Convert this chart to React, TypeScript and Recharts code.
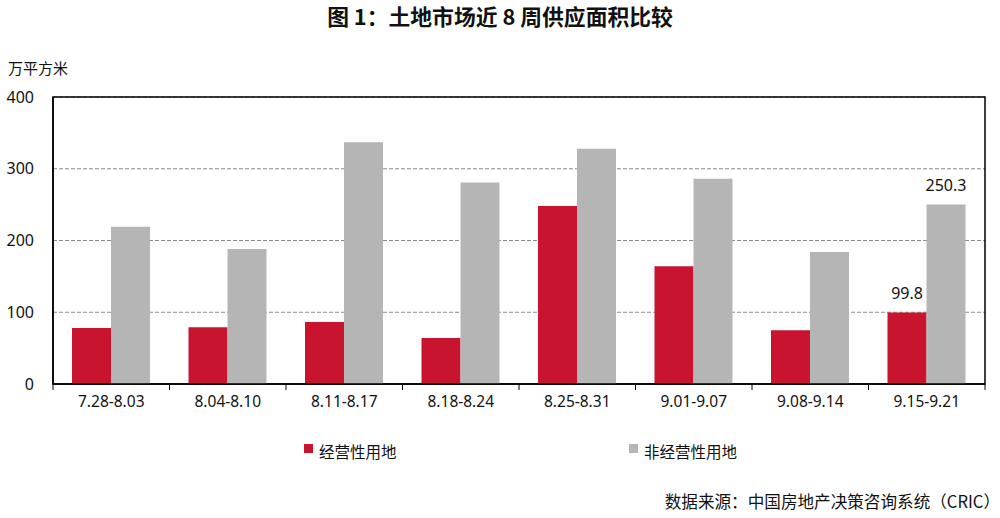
import React from "react";
import {
  BarChart,
  Bar,
  XAxis,
  YAxis,
  CartesianGrid,
  usePlotArea,
} from "recharts";

const categories = [
  "7.28-8.03",
  "8.04-8.10",
  "8.11-8.17",
  "8.18-8.24",
  "8.25-8.31",
  "9.01-9.07",
  "9.08-9.14",
  "9.15-9.21",
];
const commercial = [78, 79, 86.5, 64, 248, 164, 75, 99.8];
const nonCommercial = [219, 188, 337, 281, 328, 286, 184, 250.3];
const yTicks = [0, 100, 200, 300, 400];
const seriesNames = ["经营性用地", "非经营性用地"];
const labeledIndex = 7;

const data = categories.map((c, i) => ({
  cat: c,
  a: commercial[i],
  b: nonCommercial[i],
}));

const RED = "#C8142E";
const GRAY = "#B5B5B5";
const FONT = "'Noto Sans', 'Noto Sans CJK SC', sans-serif";
const CJK = "'Noto Sans CJK SC', 'Noto Sans', sans-serif";

const makeLabel = (props: any) => {
  const { x, y, width, value, index } = props;
  if (index !== labeledIndex) return null;
  return (
    <text
      x={x + width / 2}
      y={y - 13}
      textAnchor="middle"
      fontSize={16}
      fontFamily={FONT}
      fill="#111"
    >
      {value}
    </text>
  );
};

const CatTick = (props: any) => {
  const { x, y, payload, index } = props;
  const half = payload && payload.offset ? payload.offset : 0;
  const axisY = y - 12;
  return (
    <g>
      <line x1={x - half} x2={x - half} y1={axisY} y2={axisY + 6} stroke="#000" strokeWidth={1} />
      {index === categories.length - 1 ? (
        <line x1={x + half} x2={x + half} y1={axisY} y2={axisY + 6} stroke="#000" strokeWidth={1} />
      ) : null}
      <text
        x={x}
        y={y}
        dy="0.71em"
        textAnchor="middle"
        fontSize={15.5}
        fontFamily={FONT}
        fill="#111"
      >
        {payload.value}
      </text>
    </g>
  );
};

const Frame = () => {
  const area = usePlotArea();
  if (!area) return null;
  return (
    <rect
      x={area.x}
      y={area.y}
      width={area.width}
      height={area.height}
      fill="none"
      stroke="#000"
      strokeWidth={1.5}
    />
  );
};

export default function App() {
  return (
    <div
      style={{
        position: "fixed",
        left: 0,
        top: 0,
        width: 1000,
        height: 518,
        background: "#fff",
      }}
    >
      <div
        style={{
          position: "absolute",
          left: 0,
          top: 2,
          width: 1000,
          textAlign: "center",
          fontFamily: CJK,
          fontWeight: 700,
          fontSize: 21.8,
          color: "#111",
          lineHeight: "28px",
        }}
      >
        图 1：土地市场近 8 周供应面积比较
      </div>
      <div
        style={{
          position: "absolute",
          left: 8,
          top: 57,
          fontFamily: CJK,
          fontSize: 15,
          color: "#111",
          lineHeight: "22px",
        }}
      >
        万平方米
      </div>
      <div
        style={{
          position: "absolute",
          left: 304,
          top: 440,
          display: "flex",
          fontFamily: CJK,
          fontSize: 15.5,
          color: "#111",
          lineHeight: "22px",
        }}
      >
        {seriesNames.map((n, i) => (
          <div key={n} style={{ width: 325, display: "flex", alignItems: "center" }}>
            <span
              style={{
                display: "inline-block",
                width: 9,
                height: 9,
                background: i === 0 ? RED : GRAY,
                marginRight: 6,
                position: "relative",
                top: -3,
              }}
            />
            <span>{n}</span>
          </div>
        ))}
      </div>
      <div
        style={{
          position: "absolute",
          right: 0,
          top: 489,
          fontFamily: CJK,
          fontSize: 16.6,
          color: "#111",
          lineHeight: "24px",
          whiteSpace: "nowrap",
        }}
      >
        数据来源：中国房地产决策咨询系统（CRIC）
      </div>
      <BarChart
        width={1000}
        height={518}
        data={data}
        margin={{ top: 97, right: 15, left: 0, bottom: 94 }}
        barGap={0}
        barSize={39}
        style={{ position: "absolute", left: 0, top: 0 }}
      >
        <CartesianGrid
          horizontal={true}
          vertical={false}
          stroke="#8a8a8a"
          strokeDasharray="4 2"
        />
        <XAxis
          dataKey="cat"
          tickLine={false}
          axisLine={{ stroke: "#000", strokeWidth: 1.5 }}
          tick={<CatTick />}
          tickSize={0}
          tickMargin={12}
          height={40}
          interval={0}
        />
        <YAxis
          domain={[0, 400]}
          ticks={yTicks}
          tickLine={false}
          axisLine={{ stroke: "#000", strokeWidth: 1.5 }}
          tick={{ fontSize: 16, fill: "#111", fontFamily: FONT }}
          tickMargin={13}
          width={53}
          interval={0}
        />
        <Bar
          dataKey="a"
          name={seriesNames[0]}
          fill={RED}
          isAnimationActive={false}
          label={makeLabel}
        />
        <Bar
          dataKey="b"
          name={seriesNames[1]}
          fill={GRAY}
          isAnimationActive={false}
          label={makeLabel}
        />
        <Frame />
      </BarChart>
    </div>
  );
}
